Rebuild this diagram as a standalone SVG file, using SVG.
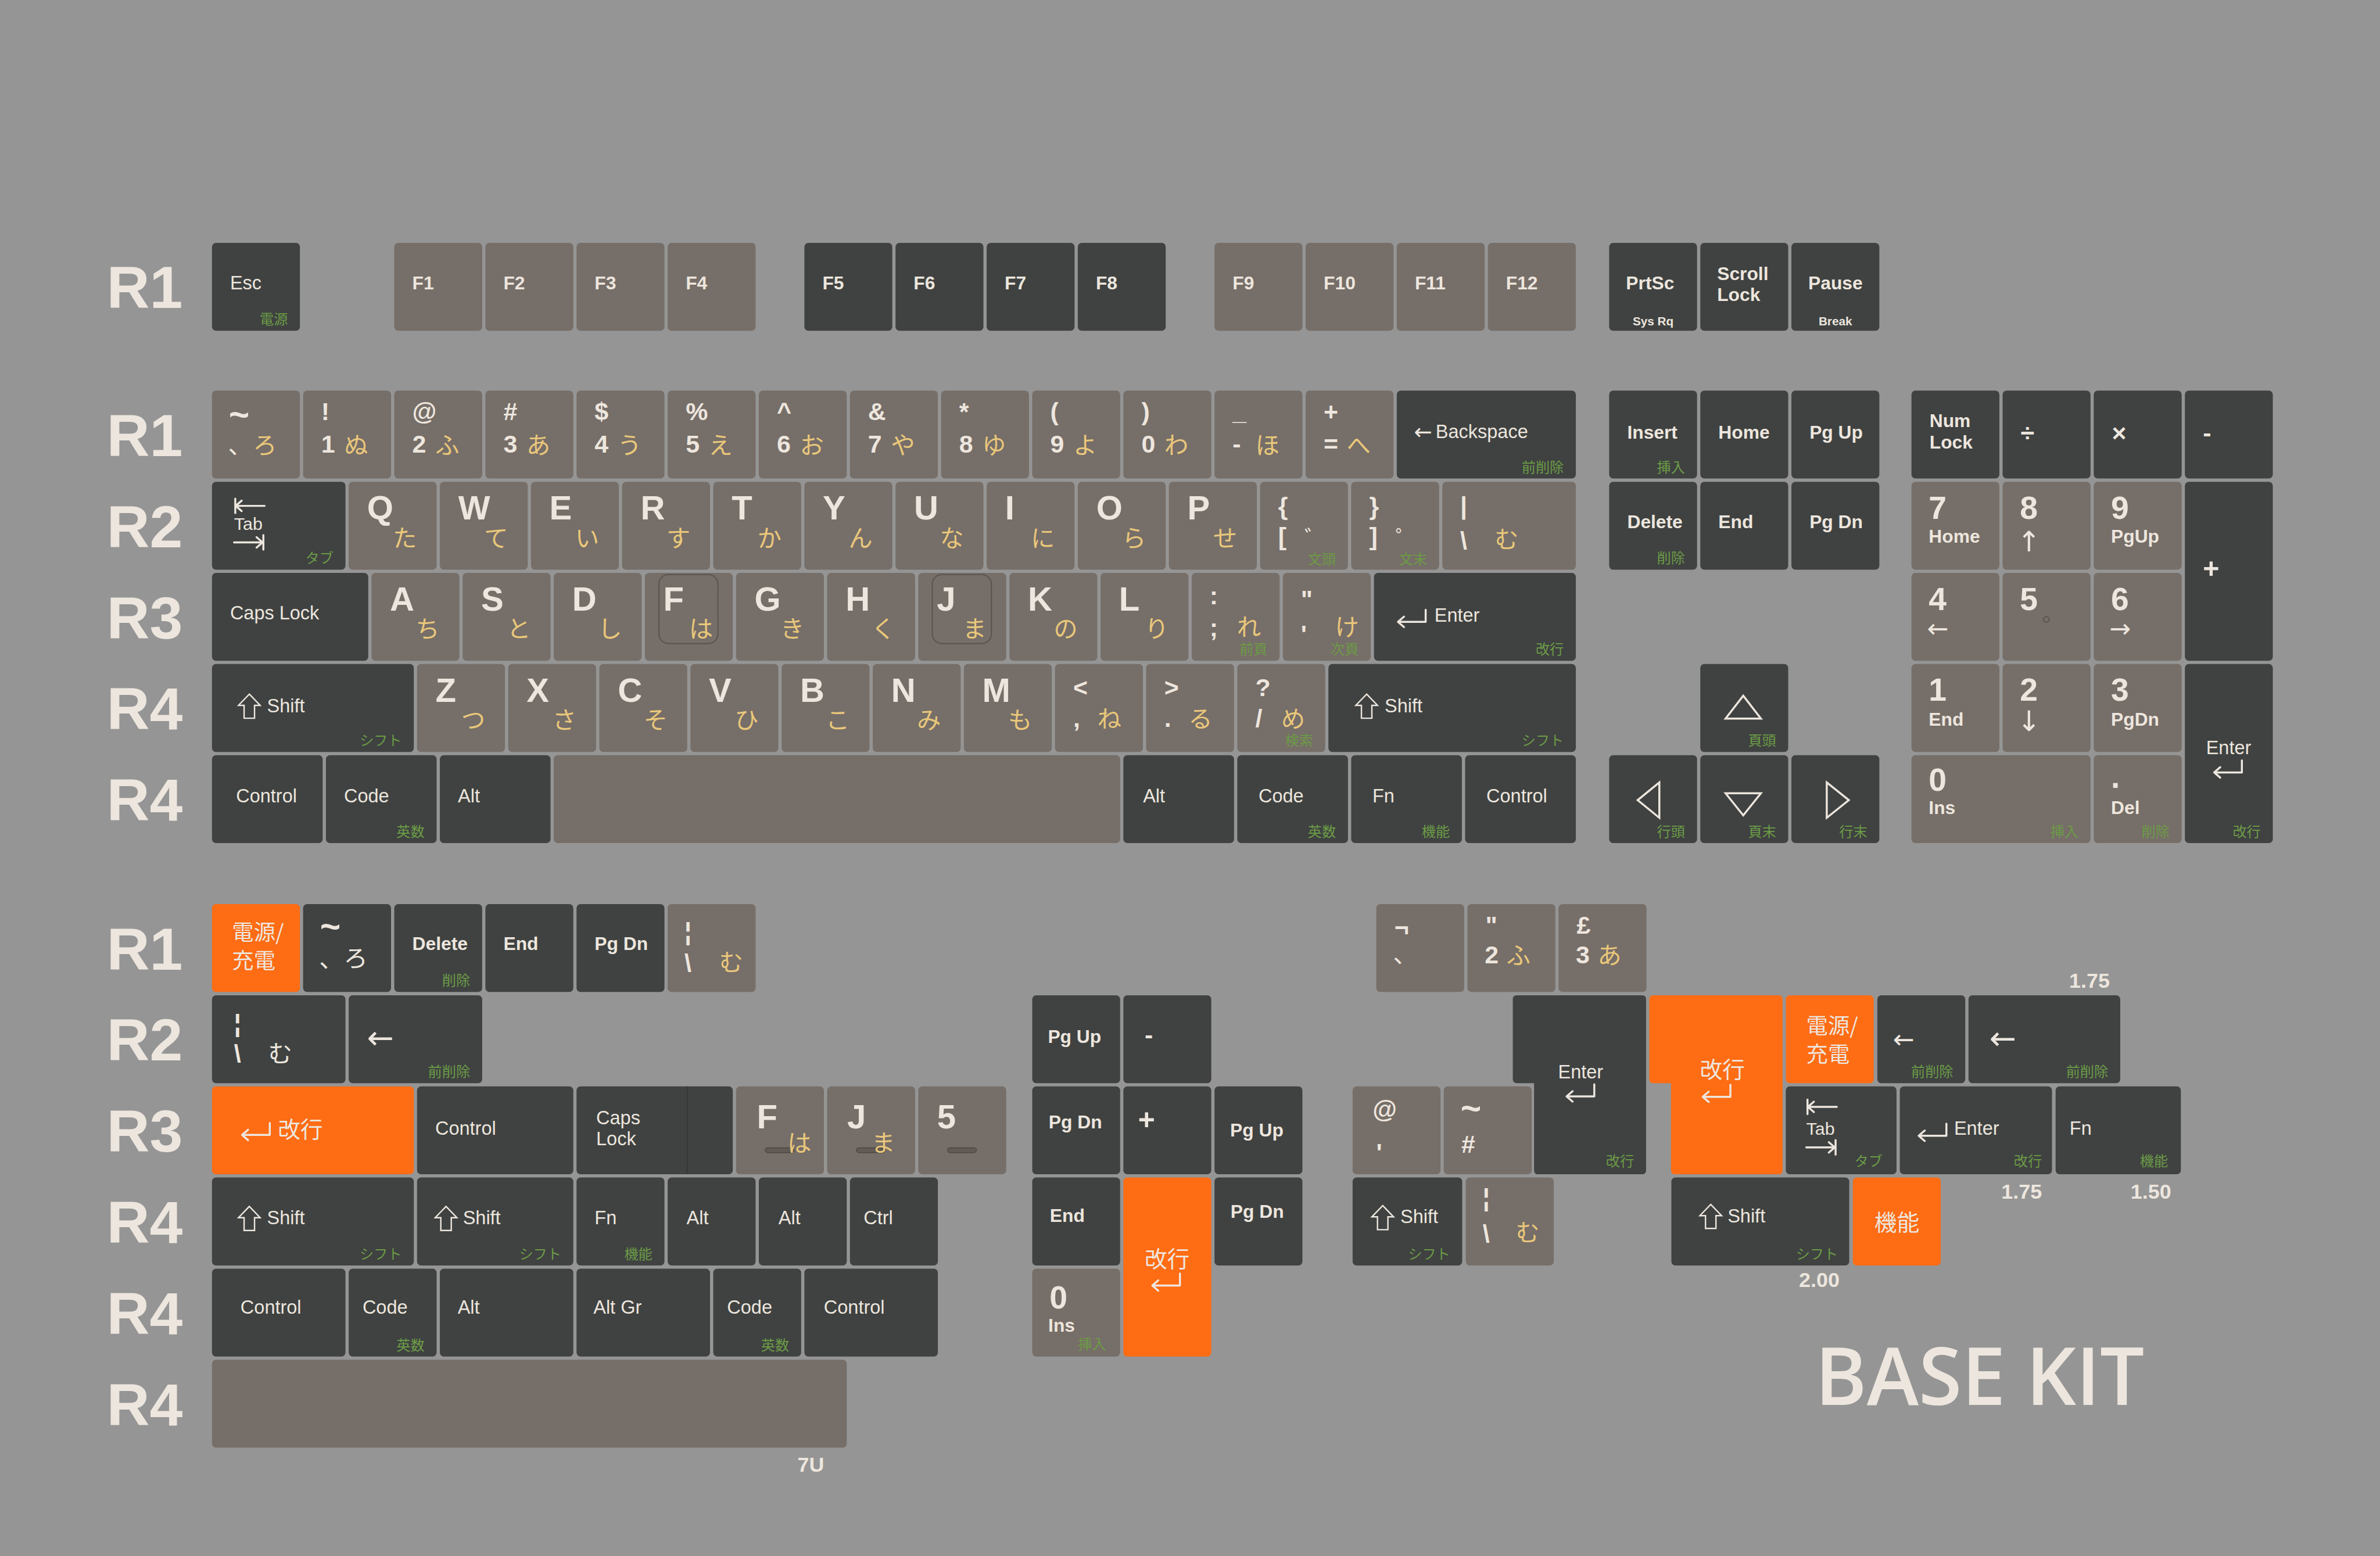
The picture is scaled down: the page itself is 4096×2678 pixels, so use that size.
<svg xmlns="http://www.w3.org/2000/svg" xmlns:xlink="http://www.w3.org/1999/xlink" width="4096" height="2678" viewBox="0 0 4096 2678">
<style>
.bg{fill:#959595}
.d{fill:#3f4241}.t{fill:#766e68}.o{fill:#fe6c14}
rect.d,rect.t,rect.o{rx:10px;ry:10px}
text{font-family:"Liberation Sans",Arial,sans-serif;fill:#ede6de}
.m{font-size:47px}
.b{font-size:46px;font-weight:bold}
.L{font-size:84px;font-weight:bold}
.n{font-size:62px;font-weight:bold}
.tl{font-size:88px;font-weight:bold}
.N{font-size:80px;font-weight:bold}
.ar{font-family:"DejaVu Sans","Liberation Sans",sans-serif;font-size:64px}
.k{font-family:"Noto Sans CJK JP",sans-serif;font-size:60px;fill:#e9c77b;text-anchor:middle}
.w{font-family:"Noto Sans CJK JP",sans-serif;font-size:60px}
.wc{font-family:"Noto Sans CJK JP",sans-serif;font-size:60px;text-anchor:middle}
.j{font-family:"Noto Sans CJK JP",sans-serif;font-size:54px}
.jc{font-family:"Noto Sans CJK JP",sans-serif;font-size:56px;text-anchor:middle}
.g{font-family:"Noto Sans CJK JP",sans-serif;font-size:35px;fill:#6c9b46;text-anchor:end}
.s{font-size:30px;font-weight:bold;text-anchor:middle}
.r{font-size:148px;font-weight:bold}
.u{font-size:52px;font-weight:bold;text-anchor:end}
.ic{fill:none;stroke:#ede6de;stroke-width:5;stroke-linecap:round;stroke-linejoin:round}
.sh{fill:none;stroke:#ede6de;stroke-width:3.5;stroke-linejoin:miter}
.tri{fill:none;stroke:#ede6de;stroke-width:5;stroke-linejoin:miter}
.hm{fill:none;stroke:#5b544f;stroke-width:3}
.bar{fill:#625a54;stroke:#4d4742;stroke-width:2}
.title{font-family:"Open Sans","Liberation Sans",sans-serif;font-size:200px;font-weight:600}
</style>
<defs>
<path id="ent" class="ic" d="M72 0 V30 H4 M18 17 L3 30 L18 43"/>
<path id="shf" class="sh" d="M27 0 L54 28 L40 28 L40 60 L14 60 L14 28 L0 28 Z"/>
<path id="tabl" class="ic" d="M3 0 V36 M3 18 H76 M19 5 L4 18 L19 31"/>
<path id="tabr" class="ic" d="M73 0 V36 M0 18 H71 M56 5 L71 18 L56 31"/>
</defs>
<rect class="bg" x="0" y="0" width="4096" height="2678"/>
<g transform="scale(0.690958)">

<g id="row-labels">
<text class="r" x="266" y="767">R1</text>
<text class="r" x="266" y="1136">R1</text>
<text class="r" x="266" y="1363">R2</text>
<text class="r" x="266" y="1590">R3</text>
<text class="r" x="266" y="1817">R4</text>
<text class="r" x="266" y="2044">R4</text>
<text class="r" x="266" y="2415">R1</text>
<text class="r" x="266" y="2642">R2</text>
<text class="r" x="266" y="2869">R3</text>
<text class="r" x="266" y="3096">R4</text>
<text class="r" x="266" y="3323">R4</text>
<text class="r" x="266" y="3550">R4</text>
</g>

<!-- F row -->
<g id="k-esc"><rect class="d" x="528" y="605" width="219" height="219"/><text class="m" x="573" y="721">Esc</text><text class="g" x="717" y="808">電源</text></g>
<g id="k-f1"><rect class="t" x="982" y="605" width="219" height="219"/><text class="b" x="1027" y="721">F1</text></g>
<g id="k-f2"><rect class="t" x="1209" y="605" width="219" height="219"/><text class="b" x="1254" y="721">F2</text></g>
<g id="k-f3"><rect class="t" x="1436" y="605" width="219" height="219"/><text class="b" x="1481" y="721">F3</text></g>
<g id="k-f4"><rect class="t" x="1663" y="605" width="219" height="219"/><text class="b" x="1708" y="721">F4</text></g>
<g id="k-f5"><rect class="d" x="2003.5" y="605" width="219" height="219"/><text class="b" x="2048.5" y="721">F5</text></g>
<g id="k-f6"><rect class="d" x="2230.5" y="605" width="219" height="219"/><text class="b" x="2275.5" y="721">F6</text></g>
<g id="k-f7"><rect class="d" x="2457.5" y="605" width="219" height="219"/><text class="b" x="2502.5" y="721">F7</text></g>
<g id="k-f8"><rect class="d" x="2684.5" y="605" width="219" height="219"/><text class="b" x="2729.5" y="721">F8</text></g>
<g id="k-f9"><rect class="t" x="3025" y="605" width="219" height="219"/><text class="b" x="3070" y="721">F9</text></g>
<g id="k-f10"><rect class="t" x="3252" y="605" width="219" height="219"/><text class="b" x="3297" y="721">F10</text></g>
<g id="k-f11"><rect class="t" x="3479" y="605" width="219" height="219"/><text class="b" x="3524" y="721">F11</text></g>
<g id="k-f12"><rect class="t" x="3706" y="605" width="219" height="219"/><text class="b" x="3751" y="721">F12</text></g>
<g id="k-prtsc"><rect class="d" x="4008" y="605" width="219" height="219"/><text class="b" x="4050" y="721">PrtSc</text><text class="s" x="4117.5" y="810">Sys Rq</text></g>
<g id="k-scroll"><rect class="d" x="4235" y="605" width="219" height="219"/><text class="b" x="4277" y="698">Scroll</text><text class="b" x="4277" y="750">Lock</text></g>
<g id="k-pause"><rect class="d" x="4462" y="605" width="219" height="219"/><text class="b" x="4504" y="721">Pause</text><text class="s" x="4571.5" y="810">Break</text></g>

<!-- Number row -->
<g id="k-grave"><rect class="t" x="528" y="973" width="219" height="219"/><text class="tl" x="570" y="1063">~</text><text class="w" x="568" y="1130">、</text><text class="k" x="660" y="1130">ろ</text></g>
<g id="k-1"><rect class="t" x="755" y="973" width="219" height="219"/><text class="n" x="800" y="1047">!</text><text class="n" x="800" y="1128">1</text><text class="k" x="887" y="1130">ぬ</text></g>
<g id="k-2"><rect class="t" x="982" y="973" width="219" height="219"/><text class="n" x="1027" y="1047">@</text><text class="n" x="1027" y="1128">2</text><text class="k" x="1114" y="1130">ふ</text></g>
<g id="k-3"><rect class="t" x="1209" y="973" width="219" height="219"/><text class="n" x="1254" y="1047">#</text><text class="n" x="1254" y="1128">3</text><text class="k" x="1341" y="1130">あ</text></g>
<g id="k-4"><rect class="t" x="1436" y="973" width="219" height="219"/><text class="n" x="1481" y="1047">$</text><text class="n" x="1481" y="1128">4</text><text class="k" x="1568" y="1130">う</text></g>
<g id="k-5"><rect class="t" x="1663" y="973" width="219" height="219"/><text class="n" x="1708" y="1047">%</text><text class="n" x="1708" y="1128">5</text><text class="k" x="1795" y="1130">え</text></g>
<g id="k-6"><rect class="t" x="1890" y="973" width="219" height="219"/><text class="n" x="1935" y="1047">^</text><text class="n" x="1935" y="1128">6</text><text class="k" x="2022" y="1130">お</text></g>
<g id="k-7"><rect class="t" x="2117" y="973" width="219" height="219"/><text class="n" x="2162" y="1047">&amp;</text><text class="n" x="2162" y="1128">7</text><text class="k" x="2249" y="1130">や</text></g>
<g id="k-8"><rect class="t" x="2344" y="973" width="219" height="219"/><text class="n" x="2389" y="1047">*</text><text class="n" x="2389" y="1128">8</text><text class="k" x="2476" y="1130">ゆ</text></g>
<g id="k-9"><rect class="t" x="2571" y="973" width="219" height="219"/><text class="n" x="2616" y="1047">(</text><text class="n" x="2616" y="1128">9</text><text class="k" x="2703" y="1130">よ</text></g>
<g id="k-0"><rect class="t" x="2798" y="973" width="219" height="219"/><text class="n" x="2843" y="1047">)</text><text class="n" x="2843" y="1128">0</text><text class="k" x="2930" y="1130">わ</text></g>
<g id="k-minus"><rect class="t" x="3025" y="973" width="219" height="219"/><text class="n" x="3070" y="1047">_</text><text class="n" x="3070" y="1128">-</text><text class="k" x="3157" y="1130">ほ</text></g>
<g id="k-equal"><rect class="t" x="3252" y="973" width="219" height="219"/><text class="n" x="3297" y="1047">+</text><text class="n" x="3297" y="1128">=</text><text class="k" x="3384" y="1130">へ</text></g>
<g id="k-bksp"><rect class="d" x="3479" y="973" width="446" height="219"/><text class="ar" x="3522" y="1094" style="font-size:54px">←</text><text class="m" x="3576" y="1091">Backspace</text><text class="g" x="3895" y="1176">前削除</text></g>
<g id="k-ins"><rect class="d" x="4008" y="973" width="219" height="219"/><text class="b" x="4053" y="1093">Insert</text><text class="g" x="4197" y="1176">挿入</text></g>
<g id="k-home"><rect class="d" x="4235" y="973" width="219" height="219"/><text class="b" x="4280" y="1093">Home</text></g>
<g id="k-pgup"><rect class="d" x="4462" y="973" width="219" height="219"/><text class="b" x="4507" y="1093">Pg Up</text></g>
<g id="k-numlock"><rect class="d" x="4761" y="973" width="219" height="219"/><text class="b" x="4806" y="1064">Num</text><text class="b" x="4806" y="1117">Lock</text></g>
<g id="k-div"><rect class="d" x="4988" y="973" width="219" height="219"/><text class="n" x="5033" y="1100">÷</text></g>
<g id="k-mul"><rect class="d" x="5215" y="973" width="219" height="219"/><text class="n" x="5260" y="1100">×</text></g>
<g id="k-sub"><rect class="d" x="5442" y="973" width="219" height="219"/><text class="n" x="5487" y="1100">-</text></g>

<!-- Q row -->
<g id="k-tab"><rect class="d" x="528" y="1200" width="332.5" height="219"/><use href="#tabl" x="583" y="1242"/><text class="m" x="583" y="1320" style="font-size:44px">Tab</text><use href="#tabr" x="583" y="1333"/><text class="g" x="830.5" y="1403">タブ</text></g>
<g id="k-q"><rect class="t" x="868.5" y="1200" width="219" height="219"/><text class="L" x="914.5" y="1294">Q</text><text class="k" x="1008.5" y="1362">た</text></g>
<g id="k-w"><rect class="t" x="1095.5" y="1200" width="219" height="219"/><text class="L" x="1141.5" y="1294">W</text><text class="k" x="1235.5" y="1362">て</text></g>
<g id="k-e"><rect class="t" x="1322.5" y="1200" width="219" height="219"/><text class="L" x="1368.5" y="1294">E</text><text class="k" x="1462.5" y="1362">い</text></g>
<g id="k-r"><rect class="t" x="1549.5" y="1200" width="219" height="219"/><text class="L" x="1595.5" y="1294">R</text><text class="k" x="1689.5" y="1362">す</text></g>
<g id="k-t"><rect class="t" x="1776.5" y="1200" width="219" height="219"/><text class="L" x="1822.5" y="1294">T</text><text class="k" x="1916.5" y="1362">か</text></g>
<g id="k-y"><rect class="t" x="2003.5" y="1200" width="219" height="219"/><text class="L" x="2049.5" y="1294">Y</text><text class="k" x="2143.5" y="1362">ん</text></g>
<g id="k-u"><rect class="t" x="2230.5" y="1200" width="219" height="219"/><text class="L" x="2276.5" y="1294">U</text><text class="k" x="2370.5" y="1362">な</text></g>
<g id="k-i"><rect class="t" x="2457.5" y="1200" width="219" height="219"/><text class="L" x="2503.5" y="1294">I</text><text class="k" x="2597.5" y="1362">に</text></g>
<g id="k-o"><rect class="t" x="2684.5" y="1200" width="219" height="219"/><text class="L" x="2730.5" y="1294">O</text><text class="k" x="2824.5" y="1362">ら</text></g>
<g id="k-p"><rect class="t" x="2911.5" y="1200" width="219" height="219"/><text class="L" x="2957.5" y="1294">P</text><text class="k" x="3051.5" y="1362">せ</text></g>
<g id="k-lbr"><rect class="t" x="3138.5" y="1200" width="219" height="219"/><text class="n" x="3183.5" y="1282">{</text><text class="n" x="3183.5" y="1358">[</text><text class="wc" x="3276" y="1360" style="font-size:54px">゛</text><text class="g" x="3327.5" y="1405">文頭</text></g>
<g id="k-rbr"><rect class="t" x="3365.5" y="1200" width="219" height="219"/><text class="n" x="3410.5" y="1282">}</text><text class="n" x="3410.5" y="1358">]</text><text class="wc" x="3503" y="1360" style="font-size:54px">゜</text><text class="g" x="3554.5" y="1405">文末</text></g>
<g id="k-bsl"><rect class="t" x="3592.5" y="1200" width="332.5" height="219"/><text class="n" x="3637" y="1281">|</text><text class="n" x="3637" y="1368">\</text><text class="k" x="3752.5" y="1365">む</text></g>
<g id="k-del"><rect class="d" x="4008" y="1200" width="219" height="219"/><text class="b" x="4053" y="1316">Delete</text><text class="g" x="4197" y="1403">削除</text></g>
<g id="k-end"><rect class="d" x="4235" y="1200" width="219" height="219"/><text class="b" x="4280" y="1316">End</text></g>
<g id="k-pgdn"><rect class="d" x="4462" y="1200" width="219" height="219"/><text class="b" x="4507" y="1316">Pg Dn</text></g>
<g id="k-n7"><rect class="t" x="4761" y="1200" width="219" height="219"/><text class="N" x="4804" y="1292">7</text><text class="b" x="4804" y="1352">Home</text></g>
<g id="k-n8"><rect class="t" x="4988" y="1200" width="219" height="219"/><text class="N" x="5031" y="1292">8</text><text class="ar" x="5054" y="1374" text-anchor="middle" style="font-size:70px">↑</text></g>
<g id="k-n9"><rect class="t" x="5215" y="1200" width="219" height="219"/><text class="N" x="5258" y="1292">9</text><text class="b" x="5258" y="1352">PgUp</text></g>
<g id="k-nadd"><rect class="d" x="5442" y="1200" width="219" height="446"/><text class="n" x="5487" y="1440" style="font-size:70px">+</text></g>

<!-- A row -->
<g id="k-caps"><rect class="d" x="528" y="1427" width="389.25" height="219"/><text class="m" x="573" y="1543">Caps Lock</text></g>
<g id="k-a"><rect class="t" x="925.25" y="1427" width="219" height="219"/><text class="L" x="971.25" y="1521">A</text><text class="k" x="1065.25" y="1588">ち</text></g>
<g id="k-s"><rect class="t" x="1152.25" y="1427" width="219" height="219"/><text class="L" x="1198.25" y="1521">S</text><text class="k" x="1292.25" y="1588">と</text></g>
<g id="k-d"><rect class="t" x="1379.25" y="1427" width="219" height="219"/><text class="L" x="1425.25" y="1521">D</text><text class="k" x="1519.25" y="1588">し</text></g>
<g id="k-f"><rect class="t" x="1606.25" y="1427" width="219" height="219"/><rect class="hm" x="1641.25" y="1431" width="147" height="172" rx="24"/><text class="L" x="1652.25" y="1521">F</text><text class="k" x="1746.25" y="1588">は</text></g>
<g id="k-g"><rect class="t" x="1833.25" y="1427" width="219" height="219"/><text class="L" x="1879.25" y="1521">G</text><text class="k" x="1973.25" y="1588">き</text></g>
<g id="k-h"><rect class="t" x="2060.25" y="1427" width="219" height="219"/><text class="L" x="2106.25" y="1521">H</text><text class="k" x="2200.25" y="1588">く</text></g>
<g id="k-j"><rect class="t" x="2287.25" y="1427" width="219" height="219"/><rect class="hm" x="2322.25" y="1431" width="147" height="172" rx="24"/><text class="L" x="2333.25" y="1521">J</text><text class="k" x="2427.25" y="1588">ま</text></g>
<g id="k-k"><rect class="t" x="2514.25" y="1427" width="219" height="219"/><text class="L" x="2560.25" y="1521">K</text><text class="k" x="2654.25" y="1588">の</text></g>
<g id="k-l"><rect class="t" x="2741.25" y="1427" width="219" height="219"/><text class="L" x="2787.25" y="1521">L</text><text class="k" x="2881.25" y="1588">り</text></g>
<g id="k-semi"><rect class="t" x="2968.25" y="1427" width="219" height="219"/><text class="n" x="3013" y="1505">:</text><text class="n" x="3013" y="1585">;</text><text class="k" x="3111" y="1584">れ</text><text class="g" x="3157.25" y="1630">前頁</text></g>
<g id="k-quote"><rect class="t" x="3195.25" y="1427" width="219" height="219"/><text class="n" x="3240" y="1514">"</text><text class="n" x="3240" y="1600">'</text><text class="k" x="3355" y="1584">け</text><text class="g" x="3384.25" y="1630">次頁</text></g>
<g id="k-enter"><rect class="d" x="3422.25" y="1427" width="502.75" height="219"/><use href="#ent" x="3479" y="1519"/><text class="m" x="3573" y="1548">Enter</text><text class="g" x="3895" y="1630">改行</text></g>
<g id="k-n4"><rect class="t" x="4761" y="1427" width="219" height="219"/><text class="N" x="4804" y="1519">4</text><text class="ar" x="4800" y="1588">←</text></g>
<g id="k-n5"><rect class="t" x="4988" y="1427" width="219" height="219"/><text class="N" x="5031" y="1519">5</text><circle cx="5097" cy="1543" r="7" fill="none" stroke="#5b544f" stroke-width="3"/></g>
<g id="k-n6"><rect class="t" x="5215" y="1427" width="219" height="219"/><text class="N" x="5258" y="1519">6</text><text class="ar" x="5254" y="1588">→</text></g>

<!-- Z row -->
<g id="k-lshift"><rect class="d" x="528" y="1654" width="502.75" height="219"/><use href="#shf" x="594" y="1729"/><text class="m" x="665" y="1774">Shift</text><text class="g" x="1000.75" y="1857">シフト</text></g>
<g id="k-z"><rect class="t" x="1038.75" y="1654" width="219" height="219"/><text class="L" x="1084.75" y="1748">Z</text><text class="k" x="1178.75" y="1815">つ</text></g>
<g id="k-x"><rect class="t" x="1265.75" y="1654" width="219" height="219"/><text class="L" x="1311.75" y="1748">X</text><text class="k" x="1405.75" y="1815">さ</text></g>
<g id="k-c"><rect class="t" x="1492.75" y="1654" width="219" height="219"/><text class="L" x="1538.75" y="1748">C</text><text class="k" x="1632.75" y="1815">そ</text></g>
<g id="k-v"><rect class="t" x="1719.75" y="1654" width="219" height="219"/><text class="L" x="1765.75" y="1748">V</text><text class="k" x="1859.75" y="1815">ひ</text></g>
<g id="k-b"><rect class="t" x="1946.75" y="1654" width="219" height="219"/><text class="L" x="1992.75" y="1748">B</text><text class="k" x="2086.75" y="1815">こ</text></g>
<g id="k-n"><rect class="t" x="2173.75" y="1654" width="219" height="219"/><text class="L" x="2219.75" y="1748">N</text><text class="k" x="2313.75" y="1815">み</text></g>
<g id="k-m"><rect class="t" x="2400.75" y="1654" width="219" height="219"/><text class="L" x="2446.75" y="1748">M</text><text class="k" x="2540.75" y="1815">も</text></g>
<g id="k-comma"><rect class="t" x="2627.75" y="1654" width="219" height="219"/><text class="n" x="2673" y="1734">&lt;</text><text class="n" x="2673" y="1811">,</text><text class="k" x="2763" y="1812">ね</text></g>
<g id="k-period"><rect class="t" x="2854.75" y="1654" width="219" height="219"/><text class="n" x="2900" y="1734">&gt;</text><text class="n" x="2900" y="1811">.</text><text class="k" x="2990" y="1812">る</text></g>
<g id="k-slash"><rect class="t" x="3081.75" y="1654" width="219" height="219"/><text class="n" x="3127" y="1734">?</text><text class="n" x="3127" y="1811">/</text><text class="k" x="3221" y="1812">め</text><text class="g" x="3270.75" y="1857">検索</text></g>
<g id="k-rshift"><rect class="d" x="3308.75" y="1654" width="616.25" height="219"/><use href="#shf" x="3377" y="1729"/><text class="m" x="3449" y="1774">Shift</text><text class="g" x="3895" y="1857">シフト</text></g>
<g id="k-up"><rect class="d" x="4235" y="1654" width="219" height="219"/><polygon class="tri" points="4342,1733 4386,1790 4298,1790"/><text class="g" x="4424" y="1857">頁頭</text></g>
<g id="k-n1"><rect class="t" x="4761" y="1654" width="219" height="219"/><text class="N" x="4804" y="1746">1</text><text class="b" x="4804" y="1808">End</text></g>
<g id="k-n2"><rect class="t" x="4988" y="1654" width="219" height="219"/><text class="N" x="5031" y="1746">2</text><text class="ar" x="5054" y="1820" text-anchor="middle" style="font-size:70px">↓</text></g>
<g id="k-n3"><rect class="t" x="5215" y="1654" width="219" height="219"/><text class="N" x="5258" y="1746">3</text><text class="b" x="5258" y="1808">PgDn</text></g>
<g id="k-nent"><rect class="d" x="5442" y="1654" width="219" height="446"/><text class="m" x="5551" y="1878" text-anchor="middle">Enter</text><use href="#ent" x="5512" y="1894"/><text class="g" x="5631" y="2084">改行</text></g>

<!-- Bottom row -->
<g id="k-lctrl"><rect class="d" x="528" y="1881" width="275.75" height="219"/><text class="m" x="588" y="1998">Control</text></g>
<g id="k-lcode"><rect class="d" x="811.75" y="1881" width="275.75" height="219"/><text class="m" x="856.75" y="1998">Code</text><text class="g" x="1057.5" y="2084">英数</text></g>
<g id="k-lalt"><rect class="d" x="1095.5" y="1881" width="275.75" height="219"/><text class="m" x="1140.5" y="1998">Alt</text></g>
<g id="k-space"><rect class="t" x="1379.25" y="1881" width="1410.75" height="219"/></g>
<g id="k-ralt"><rect class="d" x="2798" y="1881" width="275.75" height="219"/><text class="m" x="2847" y="1998">Alt</text></g>
<g id="k-rcode"><rect class="d" x="3081.75" y="1881" width="275.75" height="219"/><text class="m" x="3134.75" y="1998">Code</text><text class="g" x="3327.5" y="2084">英数</text></g>
<g id="k-fn"><rect class="d" x="3365.5" y="1881" width="275.75" height="219"/><text class="m" x="3418.5" y="1998">Fn</text><text class="g" x="3611.25" y="2084">機能</text></g>
<g id="k-rctrl"><rect class="d" x="3649.25" y="1881" width="275.75" height="219"/><text class="m" x="3702.25" y="1998">Control</text></g>
<g id="k-left"><rect class="d" x="4008" y="1881" width="219" height="219"/><polygon class="tri" points="4133,1949 4133,2037 4079,1993"/><text class="g" x="4197" y="2084">行頭</text></g>
<g id="k-down"><rect class="d" x="4235" y="1881" width="219" height="219"/><polygon class="tri" points="4298,1976 4386,1976 4342,2031"/><text class="g" x="4424" y="2084">頁末</text></g>
<g id="k-right"><rect class="d" x="4462" y="1881" width="219" height="219"/><polygon class="tri" points="4550,1949 4550,2037 4605,1993"/><text class="g" x="4651" y="2084">行末</text></g>
<g id="k-n0"><rect class="t" x="4761" y="1881" width="446" height="219"/><text class="N" x="4804" y="1970">0</text><text class="b" x="4804" y="2028">Ins</text><text class="g" x="5177" y="2084">挿入</text></g>
<g id="k-ndot"><rect class="t" x="5215" y="1881" width="219" height="219"/><text class="N" x="5258" y="1962">.</text><text class="b" x="5258" y="2028">Del</text><text class="g" x="5404" y="2084">削除</text></g>

<!-- ===== Lower section, left block ===== -->
<g id="x-power"><rect class="o" x="528" y="2252" width="219" height="219"/><text class="j" x="578" y="2342">電源/</text><text class="j" x="578" y="2413">充電</text></g>
<g id="x-grave"><rect class="d" x="755" y="2252" width="219" height="219"/><text class="tl" x="797" y="2337">~</text><text class="w" x="795" y="2410">、</text><text class="wc" x="886" y="2408">ろ</text></g>
<g id="x-delete"><rect class="d" x="982" y="2252" width="219" height="219"/><text class="b" x="1027" y="2367">Delete</text><text class="g" x="1171" y="2455">削除</text></g>
<g id="x-end"><rect class="d" x="1209" y="2252" width="219" height="219"/><text class="b" x="1254" y="2367">End</text></g>
<g id="x-pgdn"><rect class="d" x="1436" y="2252" width="219" height="219"/><text class="b" x="1481" y="2367">Pg Dn</text></g>
<g id="x-bsl1"><rect class="t" x="1663" y="2252" width="219" height="219"/><text class="n" x="1705" y="2342">¦</text><text class="n" x="1705" y="2420">\</text><text class="k" x="1821" y="2418">む</text></g>

<g id="x-bsl2"><rect class="d" x="528" y="2479" width="332.5" height="219"/><text class="n" x="583" y="2570">¦</text><text class="n" x="583" y="2646">\</text><text class="wc" x="698" y="2645">む</text></g>
<g id="x-back"><rect class="d" x="868.5" y="2479" width="332.5" height="219"/><text class="ar" x="914" y="2612" style="font-size:80px">←</text><text class="g" x="1171" y="2682">前削除</text></g>

<g id="x-enter"><rect class="o" x="528" y="2706" width="502.75" height="219"/><use href="#ent" x="600" y="2797"/><text class="j" x="692" y="2834" style="font-size:56px">改行</text></g>
<g id="x-control"><rect class="d" x="1038.75" y="2706" width="389.25" height="219"/><text class="m" x="1084" y="2827">Control</text></g>
<g id="x-caps"><rect class="d" x="1436" y="2706" width="389.25" height="219"/><line x1="1712" y1="2706" x2="1712" y2="2925" stroke="#363938" stroke-width="3"/><text class="m" x="1485" y="2800">Caps</text><text class="m" x="1485" y="2852">Lock</text></g>
<g id="x-f"><rect class="t" x="1833.25" y="2706" width="219" height="219"/><rect class="bar" x="1906" y="2859" width="72" height="12" rx="6"/><text class="L" x="1885" y="2810">F</text><text class="k" x="1991" y="2869">は</text></g>
<g id="x-j"><rect class="t" x="2060.25" y="2706" width="219" height="219"/><rect class="bar" x="2133" y="2859" width="72" height="12" rx="6"/><text class="L" x="2110" y="2810">J</text><text class="k" x="2200" y="2869">ま</text></g>
<g id="x-5"><rect class="t" x="2287.25" y="2706" width="219" height="219"/><rect class="bar" x="2360" y="2859" width="72" height="12" rx="6"/><text class="L" x="2334" y="2810">5</text></g>

<g id="x-lshift"><rect class="d" x="528" y="2933" width="502.75" height="219"/><use href="#shf" x="594" y="3005"/><text class="m" x="665" y="3050">Shift</text><text class="g" x="1000.75" y="3136">シフト</text></g>
<g id="x-shift2"><rect class="d" x="1038.75" y="2933" width="389.25" height="219"/><use href="#shf" x="1084" y="3005"/><text class="m" x="1153" y="3050">Shift</text><text class="g" x="1398" y="3136">シフト</text></g>
<g id="x-fn"><rect class="d" x="1436" y="2933" width="219" height="219"/><text class="m" x="1481" y="3050">Fn</text><text class="g" x="1625" y="3136">機能</text></g>
<g id="x-alt1"><rect class="d" x="1663" y="2933" width="219" height="219"/><text class="m" x="1710" y="3050">Alt</text></g>
<g id="x-alt2"><rect class="d" x="1890" y="2933" width="219" height="219"/><text class="m" x="1939" y="3050">Alt</text></g>
<g id="x-ctrl"><rect class="d" x="2117" y="2933" width="219" height="219"/><text class="m" x="2151" y="3050">Ctrl</text></g>

<g id="x-control2"><rect class="d" x="528" y="3160" width="332.5" height="219"/><text class="m" x="599" y="3272">Control</text></g>
<g id="x-code1"><rect class="d" x="868.5" y="3160" width="219" height="219"/><text class="m" x="903" y="3272">Code</text><text class="g" x="1057.5" y="3363">英数</text></g>
<g id="x-alt3"><rect class="d" x="1095.5" y="3160" width="332.5" height="219"/><text class="m" x="1140" y="3272">Alt</text></g>
<g id="x-altgr"><rect class="d" x="1436" y="3160" width="332.5" height="219"/><text class="m" x="1478" y="3272">Alt Gr</text></g>
<g id="x-code2"><rect class="d" x="1776.5" y="3160" width="219" height="219"/><text class="m" x="1811" y="3272">Code</text><text class="g" x="1965.5" y="3363">英数</text></g>
<g id="x-control3"><rect class="d" x="2003.5" y="3160" width="332.5" height="219"/><text class="m" x="2052" y="3272">Control</text></g>

<g id="x-space7u"><rect class="t" x="528" y="3387" width="1581" height="219"/><text class="u" x="2053" y="3666">7U</text></g>

<!-- Lower middle block -->
<g id="x-mpgup"><rect class="d" x="2571" y="2479" width="219" height="219"/><text class="b" x="2610" y="2598">Pg Up</text></g>
<g id="x-mminus"><rect class="d" x="2798" y="2479" width="219" height="219"/><text class="n" x="2851" y="2599">-</text></g>
<g id="x-mpgdn"><rect class="d" x="2571" y="2706" width="219" height="219"/><text class="b" x="2612" y="2810">Pg Dn</text></g>
<g id="x-mplus"><rect class="d" x="2798" y="2706" width="219" height="219"/><text class="n" x="2835" y="2814" style="font-size:72px">+</text></g>
<g id="x-mpgup2"><rect class="d" x="3025" y="2706" width="219" height="219"/><text class="b" x="3064" y="2831">Pg Up</text></g>
<g id="x-mend"><rect class="d" x="2571" y="2933" width="219" height="219"/><text class="b" x="2615" y="3044">End</text></g>
<g id="x-menter"><rect class="o" x="2798" y="2933" width="219" height="446"/><text class="jc" x="2907" y="3156">改行</text><use href="#ent" x="2867" y="3172"/></g>
<g id="x-mpgdn2"><rect class="d" x="3025" y="2933" width="219" height="219"/><text class="b" x="3065" y="3034">Pg Dn</text></g>
<g id="x-m0"><rect class="t" x="2571" y="3160" width="219" height="219"/><text class="N" x="2614" y="3259">0</text><text class="b" x="2611" y="3317">Ins</text><text class="g" x="2755" y="3360">挿入</text></g>

<!-- Lower right block -->
<g id="x-not"><rect class="t" x="3428" y="2252" width="219" height="219"/><text class="n" x="3473" y="2331">¬</text><text class="w" x="3470" y="2398">、</text></g>
<g id="x-r2"><rect class="t" x="3655" y="2252" width="219" height="219"/><text class="n" x="3700" y="2326">"</text><text class="n" x="3698" y="2399">2</text><text class="k" x="3782" y="2401">ふ</text></g>
<g id="x-r3"><rect class="t" x="3882" y="2252" width="219" height="219"/><text class="n" x="3927" y="2326">£</text><text class="n" x="3925" y="2399">3</text><text class="k" x="4009" y="2401">あ</text></g>
<text class="u" x="5255" y="2461">1.75</text>

<g id="x-isoenter"><path class="d" d="M3778,2479 H4090 Q4100,2479 4100,2489 V2915 Q4100,2925 4090,2925 H3831 Q3821,2925 3821,2915 V2698 H3778 Q3768,2698 3768,2688 V2489 Q3768,2479 3778,2479 Z"/><text class="m" x="3937" y="2686" text-anchor="middle">Enter</text><use href="#ent" x="3899" y="2701"/><text class="g" x="4070" y="2905">改行</text></g>
<g id="x-isokaigyo"><path class="o" d="M4118,2479 H4430 Q4440,2479 4440,2489 V2915 Q4440,2925 4430,2925 H4172 Q4162,2925 4162,2915 V2698 H4118 Q4108,2698 4108,2688 V2489 Q4108,2479 4118,2479 Z"/><text class="jc" x="4290" y="2684">改行</text><use href="#ent" x="4238" y="2702"/></g>
<g id="x-power2"><rect class="o" x="4448" y="2479" width="219" height="219"/><text class="j" x="4499" y="2575">電源/</text><text class="j" x="4499" y="2645">充電</text></g>
<g id="x-back1"><rect class="d" x="4676" y="2479" width="219" height="219"/><text class="ar" x="4715" y="2611">←</text><text class="g" x="4865" y="2682">前削除</text></g>
<g id="x-back2"><rect class="d" x="4903" y="2479" width="378" height="219"/><text class="ar" x="4955" y="2614" style="font-size:80px">←</text><text class="g" x="5251" y="2682">前削除</text></g>

<g id="x-at"><rect class="t" x="3369" y="2706" width="219" height="219"/><text class="n" x="3419" y="2785">@</text><text class="n" x="3428" y="2892">'</text></g>
<g id="x-tilde"><rect class="t" x="3596" y="2706" width="219" height="219"/><text class="tl" x="3638" y="2791">~</text><text class="n" x="3640" y="2871">#</text></g>
<g id="x-tab"><rect class="d" x="4448" y="2706" width="275.75" height="219"/><use href="#tabl" x="4499" y="2739"/><text class="m" x="4499" y="2827" style="font-size:44px">Tab</text><use href="#tabr" x="4499" y="2840"/><text class="g" x="4689" y="2905">タブ</text></g>
<g id="x-enter2"><rect class="d" x="4732" y="2706" width="379" height="219"/><use href="#ent" x="4776" y="2799"/><text class="m" x="4867" y="2827">Enter</text><text class="g" x="5086" y="2905">改行</text></g>
<g id="x-fn2"><rect class="d" x="5120" y="2706" width="312" height="219"/><text class="m" x="5155" y="2827">Fn</text><text class="g" x="5400" y="2905">機能</text></g>
<text class="u" x="5086" y="2986">1.75</text>
<text class="u" x="5408" y="2986">1.50</text>

<g id="x-rshift1"><rect class="d" x="3369" y="2933" width="273" height="219"/><use href="#shf" x="3417" y="3003"/><text class="m" x="3488" y="3047">Shift</text><text class="g" x="3612" y="3136">シフト</text></g>
<g id="x-bsl3"><rect class="t" x="3651" y="2933" width="219" height="219"/><text class="n" x="3693" y="3005">¦</text><text class="n" x="3693" y="3094">\</text><text class="k" x="3805" y="3092">む</text></g>
<g id="x-rshift2"><rect class="d" x="4163" y="2933" width="443" height="219"/><use href="#shf" x="4234" y="3000"/><text class="m" x="4303" y="3045">Shift</text><text class="g" x="4578" y="3136">シフト</text></g>
<g id="x-kinou"><rect class="o" x="4615" y="2933" width="219" height="219"/><text class="jc" x="4724.5" y="3065">機能</text></g>
<text class="u" x="4582" y="3206">2.00</text>

<text class="title" x="4521" y="3500" textLength="820" lengthAdjust="spacingAndGlyphs">BASE KIT</text>
</g>
</svg>
